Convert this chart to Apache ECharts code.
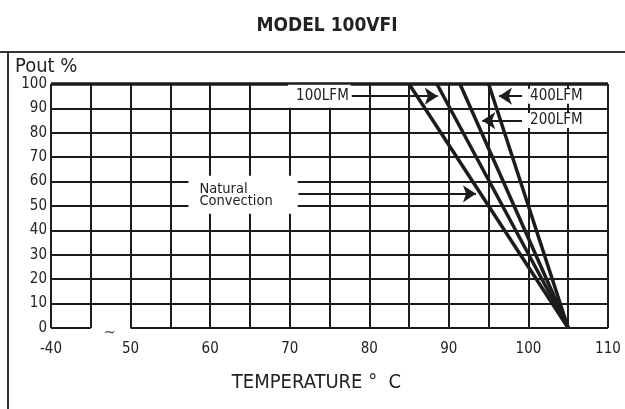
<!DOCTYPE html>
<html>
<head>
<meta charset="utf-8">
<script src="https://cdn.jsdelivr.net/npm/echarts@6/dist/echarts.min.js"></script>
<style>
  html, body { margin: 0; padding: 0; background: #fff; }
  #main { width: 625px; height: 409px; }
</style>
</head>
<body>
<div id="main"></div>
<script>
// derating curves: [temperature, pout %]
var naturalLine = [[85, 100], [105, 0]];
var lfm100Line = [[88.5, 100], [105, 0]];
var lfm200Line = [[91.4, 100], [105, 0]];
var lfm400Line = [[95, 100], [105, 0]];

// axis ticks
var tempMin = 40, tempMax = 110, tempStep = 5;
var poutMin = 0, poutMax = 100, poutStep = 10;

// arrow notes (data coords)
var notes = [
    { text: '100LFM', from: [77.8, 95], to: [88.6, 95], side: 'left' },
    { text: '400LFM', from: [99.2, 95], to: [96.3, 95], side: 'right' },
    { text: '200LFM', from: [99.2, 85], to: [94.2, 85], side: 'right' },
    { text: 'Natural\nConvection', from: [71.1, 55], to: [93.4, 55], side: 'big' }
];

var FONT = '"DejaVu Sans Condensed", "Liberation Sans", sans-serif';
var INK = '#1c1c1c';

var chartDom = document.getElementById('main');
var myChart = echarts.init(chartDom);

function curve(name, data) {
    return {
        name: name,
        type: 'line',
        data: data,
        symbol: 'none',
        animation: false,
        lineStyle: { color: INK, width: 3.5 }
    };
}

var noteLines = notes.map(function (n) {
    var label = {
        show: true,
        position: 'start',
        formatter: n.text,
        color: '#222',
        fontFamily: FONT,
        fontSize: 15,
        backgroundColor: '#fff',
        distance: 2,
        padding: [2, 2, 2, 2]
    };
    if (n.side === 'left') {
        label.padding = [4, 2, 4, 8];
        label.distance = 1;
    }
    if (n.side === 'right') {
        label.distance = 6;
        label.padding = [0, 2, 0, 2];
    }
    if (n.side === 'big') {
        label.fontSize = 14.5;
        label.lineHeight = 12;
        label.distance = 0;
        label.padding = [7, 25, 7, 11];
        label.align = 'left';
        label.offset = [-110, 1];
    }
    return [
        { coord: n.from, label: label },
        { coord: n.to }
    ];
});

var option = {
    animation: false,
    title: {
        text: 'MODEL 100VFI',
        left: 322,
        top: 12,
        textAlign: 'center',
        textStyle: { fontFamily: FONT, fontWeight: 'bold', fontSize: 19, color: '#222' }
    },
    grid: { left: 51, right: 17, top: 84, bottom: 81 },
    xAxis: {
        type: 'value',
        min: tempMin,
        max: tempMax,
        interval: tempStep,
        name: 'TEMPERATURE °  C',
        nameLocation: 'middle',
        nameGap: 45,
        nameTextStyle: { fontFamily: FONT, fontSize: 20, color: '#222', padding: [0, 26, 0, 0] },
        axisLine: { show: false },
        axisTick: { show: false },
        axisLabel: {
            margin: 14,
            fontFamily: FONT,
            fontSize: 15,
            color: '#222',
            formatter: function (v) {
                if (v === tempMin) return '-40';
                return v % 10 === 0 ? String(v) : '';
            }
        },
        splitLine: { show: true, lineStyle: { color: INK, width: 2 } }
    },
    yAxis: {
        type: 'value',
        min: poutMin,
        max: poutMax,
        interval: poutStep,
        axisLine: { show: false },
        axisTick: { show: false },
        axisLabel: { margin: 4, fontFamily: FONT, fontSize: 15, color: '#222' },
        splitLine: { show: true, showMinLine: false, lineStyle: { color: INK, width: 2 } }
    },
    graphic: [
        { type: 'line', shape: { x1: 0, y1: 52, x2: 625, y2: 52 }, style: { stroke: '#333', lineWidth: 2 } },
        { type: 'line', shape: { x1: 8, y1: 52, x2: 8, y2: 409 }, style: { stroke: '#333', lineWidth: 2 } },
        { type: 'text', left: 15, top: 57, style: { text: 'Pout %', font: '20px ' + FONT, fill: '#222' } }
    ],
    series: [
        curve('Natural Convection', naturalLine),
        curve('100LFM', lfm100Line),
        curve('200LFM', lfm200Line),
        curve('400LFM', lfm400Line),
        {
            // annotations, broken zero line, heavy top line
            type: 'line',
            data: [],
            silent: true,
            markLine: {
                silent: true,
                animation: false,
                symbol: ['none', 'arrow'],
                symbolSize: 13,
                lineStyle: { color: INK, width: 2, type: 'solid' },
                data: noteLines.concat([
                    [{ coord: [tempMin, 0], symbol: 'none', label: { show: false } }, { coord: [45, 0], symbol: 'none' }],
                    [{ coord: [50, 0], symbol: 'none', label: { show: false } }, { coord: [tempMax, 0], symbol: 'none' }],
                    [{ coord: [tempMin, 100], symbol: 'none', label: { show: false }, lineStyle: { width: 3.5 } }, { coord: [tempMax, 100], symbol: 'none' }]
                ])
            },
            markPoint: {
                silent: true,
                symbol: 'circle',
                symbolSize: 0,
                data: [{
                    coord: [47.4, 0],
                    label: { show: true, formatter: '~', offset: [0, 5], fontFamily: FONT, fontSize: 16, color: '#444' }
                }]
            }
        }
    ]
};
myChart.setOption(option);
</script>
</body>
</html>
